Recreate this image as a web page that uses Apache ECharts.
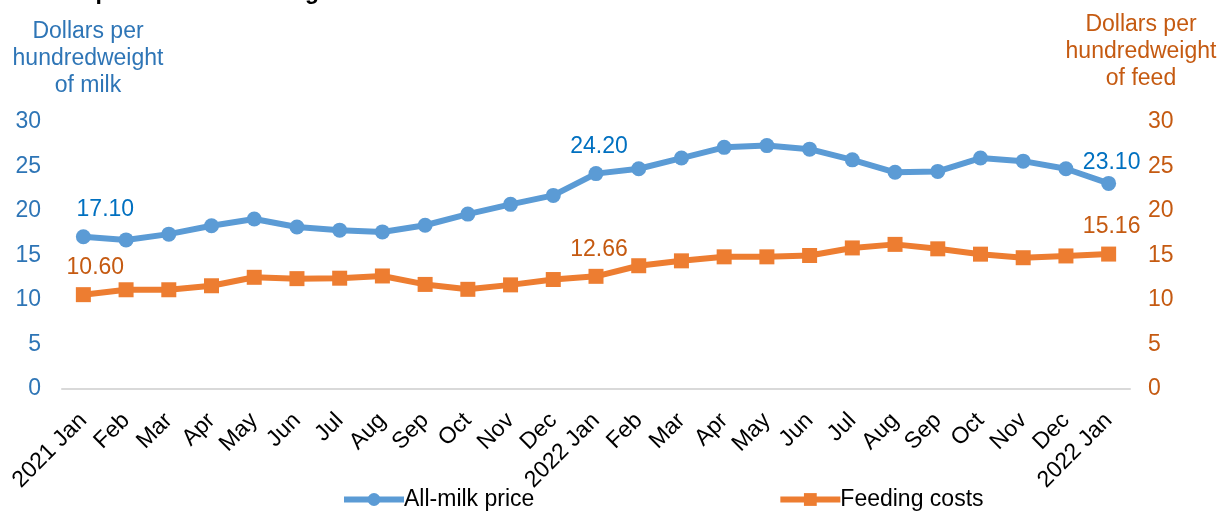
<!DOCTYPE html>
<html>
<head>
<meta charset="utf-8">
<script src="https://cdn.jsdelivr.net/npm/echarts@6/dist/echarts.min.js"></script>
<style>
  html, body { margin: 0; padding: 0; background: #ffffff; }
  #chart { width: 1225px; height: 514px; }
</style>
</head>
<body>
<div id="chart"></div>
<script>
// Monthly categories, January 2021 through the following January
const months = ['2021 Jan', 'Feb', 'Mar', 'Apr', 'May', 'Jun', 'Jul', 'Aug', 'Sep', 'Oct', 'Nov', 'Dec',
                '2022 Jan', 'Feb', 'Mar', 'Apr', 'May', 'Jun', 'Jul', 'Aug', 'Sep', 'Oct', 'Nov', 'Dec', '2022 Jan'];

// All-milk price, dollars per hundredweight of milk
const milkPrice = [17.10, 16.75, 17.40, 18.35, 19.10, 18.20, 17.85, 17.65, 18.40, 19.65, 20.75, 21.75,
                   24.20, 24.75, 25.95, 27.15, 27.35, 26.95, 25.75, 24.35, 24.45, 25.95, 25.60, 24.75, 23.10];

// Feeding costs, dollars per hundredweight of feed
const feedCost = [10.60, 11.15, 11.15, 11.60, 12.55, 12.40, 12.45, 12.70, 11.75, 11.20, 11.70, 12.30,
                  12.66, 13.85, 14.40, 14.85, 14.85, 15.00, 15.85, 16.25, 15.75, 15.15, 14.75, 14.95, 15.16];

// Points that carry a value label
const labelledPoints = [0, 12, 24];

const FONT = 'Liberation Sans, Arial, sans-serif';
const BLUE_LINE = '#5B9BD5';
const BLUE_TEXT = '#2E75B6';
const BLUE_LABEL = '#0070C0';
const ORANGE_LINE = '#ED7D31';
const ORANGE_TEXT = '#C55A11';

// Label nudges: [first point shift, last point drop]
function withLabels(values, color, firstShift, lastDrop) {
  return values.map(function (v, i) {
    if (labelledPoints.indexOf(i) < 0) return v;
    const dx = i === 0 ? firstShift : 3;
    const dy = i === values.length - 1 ? lastDrop : 0;
    return {
      value: v,
      label: {
        show: true,
        position: 'top',
        distance: 8,
        offset: [dx, dy],
        formatter: function (p) { return p.value.toFixed(2); },
        color: color,
        fontFamily: FONT,
        fontSize: 23
      }
    };
  });
}

const chart = echarts.init(document.getElementById('chart'), null, { renderer: 'canvas' });

chart.setOption({
  animation: false,
  backgroundColor: '#ffffff',
  textStyle: { fontFamily: FONT },
  grid: { left: 62, right: 95, top: 122, bottom: 125, containLabel: false },
  graphic: [
    {
      type: 'text', left: 6, top: -19,
      style: { text: 'All-milk price versus feeding costs', font: 'bold 23px ' + FONT, fill: '#000000' }
    },
    {
      type: 'text', x: 88, y: 59,
      style: {
        text: 'Dollars per\nhundredweight\nof milk', font: '23px ' + FONT, lineHeight: 27,
        fill: BLUE_TEXT, align: 'center', verticalAlign: 'middle'
      }
    },
    {
      type: 'text', x: 1141, y: 52,
      style: {
        text: 'Dollars per\nhundredweight\nof feed', font: '23px ' + FONT, lineHeight: 27,
        fill: ORANGE_TEXT, align: 'center', verticalAlign: 'middle'
      }
    }
  ],
  legend: {
    bottom: -2,
    left: 336,
    itemWidth: 60,
    itemHeight: 16,
    itemGap: 243,
    lineStyle: { width: 6 },
    textStyle: { fontSize: 23, color: '#000000', fontFamily: FONT, padding: [0, 0, 0, -5] },
    data: ['All-milk price', 'Feeding costs']
  },
  xAxis: {
    type: 'category',
    data: months,
    boundaryGap: true,
    axisLine: { show: true, lineStyle: { color: '#D9D9D9', width: 2 } },
    axisTick: { show: false },
    axisLabel: { rotate: 45, interval: 0, margin: 28, fontSize: 23, color: '#000000', fontFamily: FONT }
  },
  yAxis: [
    {
      type: 'value', min: 0, max: 30, interval: 5, position: 'left',
      axisLine: { show: false }, axisTick: { show: false }, splitLine: { show: false },
      axisLabel: { margin: 21, fontSize: 23, color: BLUE_TEXT, fontFamily: FONT }
    },
    {
      type: 'value', min: 0, max: 30, interval: 5, position: 'right',
      axisLine: { show: false }, axisTick: { show: false }, splitLine: { show: false },
      axisLabel: { margin: 18, fontSize: 23, color: ORANGE_TEXT, fontFamily: FONT }
    }
  ],
  series: [
    {
      name: 'All-milk price',
      type: 'line',
      yAxisIndex: 0,
      data: withLabels(milkPrice, BLUE_LABEL, 22, 6),
      symbol: 'circle',
      symbolSize: 15,
      lineStyle: { color: BLUE_LINE, width: 6 },
      itemStyle: { color: BLUE_LINE },
      z: 3
    },
    {
      name: 'Feeding costs',
      type: 'line',
      yAxisIndex: 1,
      data: withLabels(feedCost, ORANGE_TEXT, 12, 0),
      symbol: 'rect',
      symbolSize: 15,
      lineStyle: { color: ORANGE_LINE, width: 6 },
      itemStyle: { color: ORANGE_LINE },
      z: 2
    }
  ]
});
</script>
</body>
</html>
